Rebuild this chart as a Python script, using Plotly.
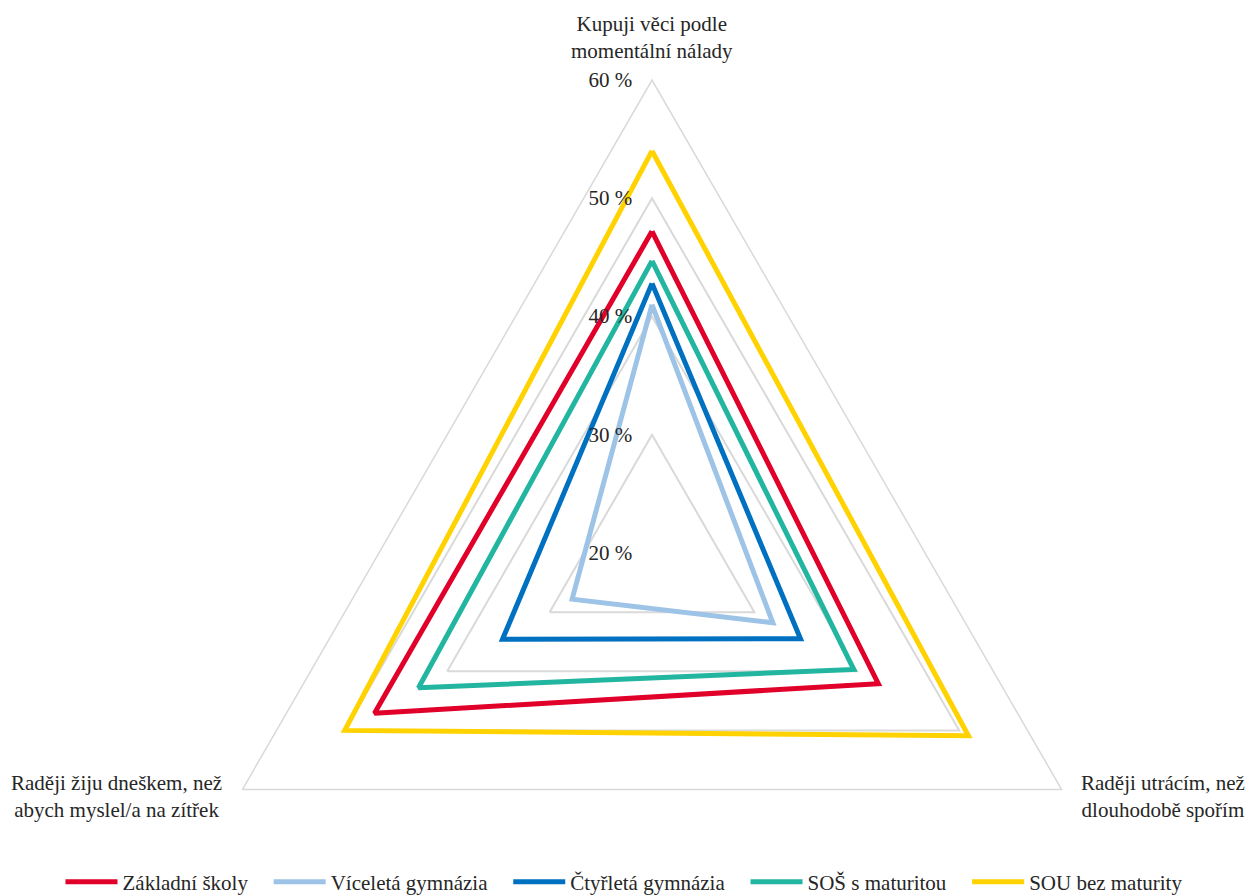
import plotly.graph_objects as go

# Survey statements (axes of the radar chart)
categories = [
    "Kupuji věci podle<br>momentální nálady",
    "Raději utrácím, než<br>dlouhodobě spořím",
    "Raději žiju dneškem, než<br>abych myslel/a na zítřek",
]

# Share of agreeing students by school type (%)
zakladni_skoly = [47.2, 42.1, 47.1]
vicelta_gymnazia = [41.0, 31.8, 27.8]
ctyrleta_gymnazia = [42.8, 34.5, 34.6]
sos_s_maturitou = [44.7, 39.7, 42.8]
sou_bez_maturity = [54.0, 50.9, 50.0]

series_names = [
    "Základní školy",
    "Víceletá gymnázia",
    "Čtyřletá gymnázia",
    "SOŠ s maturitou",
    "SOU bez maturity",
]
series_values = [
    zakladni_skoly,
    vicelta_gymnazia,
    ctyrleta_gymnazia,
    sos_s_maturitou,
    sou_bez_maturity,
]
series_colors = ["#E0002A", "#9DC3E6", "#0070C0", "#22B5A0", "#FFD200"]

radial_ticks = [20, 30, 40, 50, 60]
radial_tick_labels = ["20 %", "30 %", "40 %", "50 %", "60 %"]

FONT = "Liberation Serif, Times New Roman, serif"
FS = 21
TEXT_COLOR = "#262626"

W, H = 1249, 1040
M = dict(l=55, r=0, t=80, b=14)
PLOT_W = W - M["l"] - M["r"]
PLOT_H = H - M["t"] - M["b"]


def px_to_paper(x, y):
    """Convert a pixel position (from the top-left corner) to paper coordinates."""
    return (x - M["l"]) / PLOT_W, (H - M["b"] - y) / PLOT_H


fig = go.Figure()
for name, vals, color in zip(series_names, series_values, series_colors):
    fig.add_trace(
        go.Scatterpolar(
            r=vals + [vals[0]],
            theta=categories + [categories[0]],
            mode="lines",
            name=name + "\u00a0\u00a0\u00a0",
            line=dict(color=color, width=5),
        )
    )

# Category captions placed beside the three corners of the chart
caption_positions = [(652, 37), (1163, 796), (116, 796)]
annotations = []
for text, (cx, cy) in zip(categories, caption_positions):
    ax_, ay_ = px_to_paper(cx, cy)
    annotations.append(
        dict(
            text=text,
            x=ax_,
            y=ay_,
            xref="paper",
            yref="paper",
            xanchor="center",
            yanchor="middle",
            align="center",
            showarrow=False,
            font=dict(family=FONT, size=FS, color=TEXT_COLOR),
        )
    )

fig.update_layout(
    width=W,
    height=H,
    margin=dict(**M, autoexpand=False),
    paper_bgcolor="white",
    plot_bgcolor="white",
    font=dict(family=FONT, size=FS, color=TEXT_COLOR),
    annotations=annotations,
    polar=dict(
        bgcolor="white",
        gridshape="linear",
        domain=dict(x=[0, 1], y=[0, 1]),
        radialaxis=dict(
            range=[20, 60],
            tickmode="array",
            tickvals=radial_ticks,
            ticktext=radial_tick_labels,
            angle=90,
            tickangle=90,
            side="counterclockwise",
            showline=False,
            ticks="outside",
            ticklen=12,
            tickcolor="rgba(0,0,0,0)",
            gridcolor="#D9D9D9",
            gridwidth=1.5,
            tickfont=dict(family=FONT, size=FS, color=TEXT_COLOR),
        ),
        angularaxis=dict(
            direction="clockwise",
            rotation=90,
            showgrid=False,
            showline=True,
            linecolor="#D9D9D9",
            linewidth=1.5,
            ticks="",
            showticklabels=False,
        ),
    ),
    showlegend=True,
    legend=dict(
        orientation="h",
        yref="container",
        y=(H - 882) / H,
        yanchor="middle",
        xref="container",
        x=0.506,
        xanchor="center",
        font=dict(family=FONT, size=FS, color=TEXT_COLOR),
        bgcolor="rgba(0,0,0,0)",
        itemwidth=52,
    ),
)

fig.write_html("out.html")
